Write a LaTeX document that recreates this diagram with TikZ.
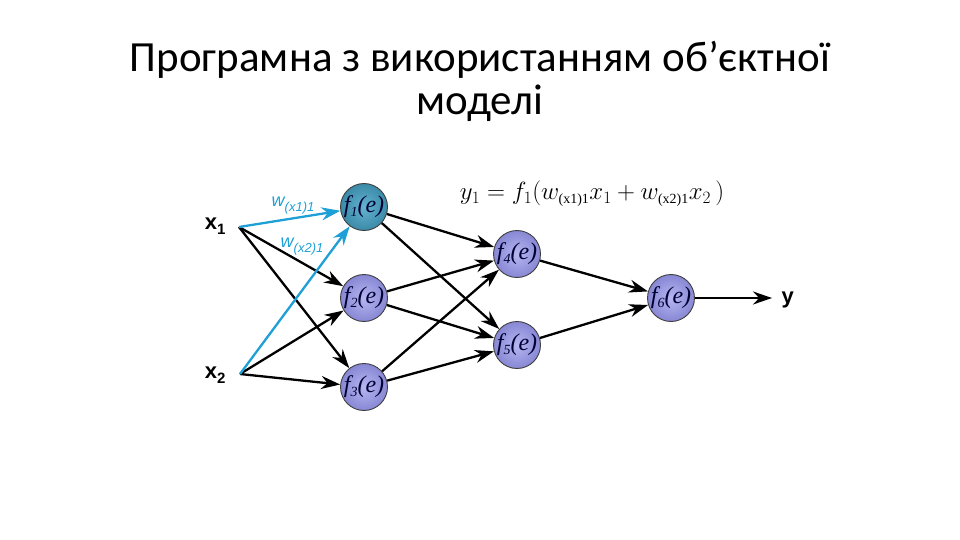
\documentclass[tikz,border=0pt]{standalone}
\usepackage{fontspec}
\setmainfont{Carlito}
\newfontfamily\lsans{Liberation Sans}
\newfontfamily\tserif{Liberation Serif}
\usetikzlibrary{arrows.meta,shadings}
\definecolor{wblue}{RGB}{30,160,215}
\definecolor{neurin}{RGB}{182,182,242}
\definecolor{neurout}{RGB}{135,135,212}
\definecolor{tealin}{RGB}{100,180,208}
\definecolor{tealout}{RGB}{58,138,168}
\newcommand{\nsub}[1]{\raisebox{-3.5pt}{\fontsize{14}{14}\selectfont #1}}
\newcommand{\bsub}[1]{\raisebox{-5pt}{\fontsize{15}{15}\selectfont #1}}
\newcommand{\wsub}[1]{\raisebox{-5pt}{\fontsize{13}{13}\selectfont #1}}
\tikzset{
  neuron/.style={circle,minimum size=47pt,inner sep=0pt,draw=black!75,line width=0.9pt,
    inner color=neurin, outer color=neurout,
    font=\tserif\itshape\fontsize{24}{24}\selectfont, text=black!80!blue},
  neuronA/.style={neuron, inner color=tealin, outer color=tealout},
  conn/.style={line width=2.3pt,-{Stealth[length=19pt,width=13pt]}},
  wconn/.style={conn,draw=wblue},
  inlab/.style={font=\lsans\bfseries\fontsize{22}{22}\selectfont},
  wlab/.style={font=\lsans\itshape\fontsize{18}{18}\selectfont,text=wblue},
}
\begin{document}
\begin{tikzpicture}[x=1pt,y=-1pt]
\useasboundingbox (0,0) rectangle (960,540);
\node[font=\fontsize{43}{43}\selectfont,align=center] (title) at (480,81)
  {Програмна з використанням об’єктної\\моделі};
\node[neuronA] (f1) at (364,207) {f\nsub{1}(e)};
\node[neuron] (f2) at (364,298) {f\nsub{2}(e)};
\node[neuron] (f3) at (364,387) {f\nsub{3}(e)};
\node[neuron] (f4) at (517,254) {f\nsub{4}(e)};
\node[neuron] (f5) at (517,345) {f\nsub{5}(e)};
\node[neuron] (f6) at (671,298) {f\nsub{6}(e)};
\coordinate (x1) at (239,227);
\coordinate (x2) at (240,374);
\node[inlab,anchor=east] (x1l) at (229,226) {x\bsub{1}};
\node[inlab,anchor=east] (x2l) at (229,375) {x\bsub{2}};
\coordinate (yend) at (772,298);
\node[inlab,anchor=west] (yl) at (778,300) {y};
\node[wlab] (w1) at (293,206) {w\wsub{(x1)1}};
\node[wlab] (w2) at (302,247) {w\wsub{(x2)1}};
\node[font=\fontsize{23}{23}\selectfont] (eq) at (592,194)
  {$y_1 = f_1(w_{\mbox{\tserif\fontsize{14}{14}\selectfont(x1)1}}x_1 + w_{\mbox{\tserif\fontsize{14}{14}\selectfont(x2)1}}x_2\,)$};
\draw[conn] (x1) -- (f2);
\draw[conn] (x1) -- (f3);
\draw[conn] (x2) -- (f2);
\draw[conn] (x2) -- (f3);
\draw[wconn] (x1) -- (f1);
\draw[wconn] (x2) -- (f1);
\foreach \a in {f1,f2,f3}{
  \draw[conn] (\a) -- (f4);
  \draw[conn] (\a) -- (f5);
}
\draw[conn] (f4) -- (f6);
\draw[conn] (f5) -- (f6);
\draw[conn] (f6) -- (yend);
\end{tikzpicture}
\end{document}
